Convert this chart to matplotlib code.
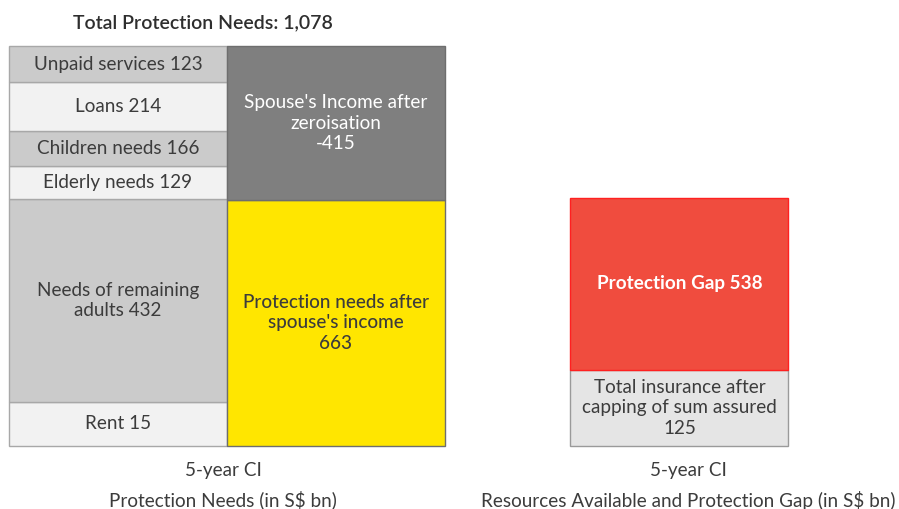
import matplotlib
matplotlib.use("Agg")
import matplotlib.pyplot as plt
import numpy as np

plt.rcParams['font.family'] = ['Lato', 'DejaVu Sans']

# ---- data ----
left_labels = ["Rent 15", "Needs of remaining\nadults 432", "Elderly needs 129",
               "Children needs 166", "Loans 214", "Unpaid services 123"]
left_values = [15, 432, 129, 166, 214, 123]
# heights as drawn in the reference (schematic, not proportional to values)
left_shown = [119, 547, 89, 94, 132, 97]

mid_labels = ["Protection needs after\nspouse's income\n663", "Spouse's Income after\nzeroisation\n-415"]
mid_values = [663, 415]

right_labels = ["Total insurance after\ncapping of sum assured\n125", "Protection Gap 538"]
right_values = [125, 538]
right_shown = [205, 464]

title = "Total Protection Needs: 1,078"
left_xlabel = ["5-year CI", "Protection Needs (in S$ bn)"]
right_xlabel = ["5-year CI", "Resources Available and Protection Gap (in S$ bn)"]

# ---- styles ----
left_colors = ["#f2f2f2", "#cbcbcb", "#f2f2f2", "#cbcbcb", "#f2f2f2", "#cbcbcb"]
mid_colors = ["#ffe600", "#7f7f7f"]
right_colors = ["#e5e5e5", "#f04c3e"]
txt = "#3c3c3c"
FS = 13.6

fig = plt.figure(figsize=(8.99, 5.09), dpi=100)
ax = fig.add_axes([0, 0, 1, 1])
ax.set_xlim(-0.541, 3.583)
ax.set_ylim(-169.8, 1202)
ax.axis("off")

def stack(x, heights, colors, labels, edge, textcolors, weights, fs):
    bottoms = np.concatenate([[0], np.cumsum(heights)[:-1]])
    bars = ax.bar([x] * len(heights), heights, bottom=bottoms, width=1.0,
                  color=colors, edgecolor=edge, linewidth=1.0, zorder=2)
    for b, lab, tc, w in zip(bars, labels, textcolors, weights):
        cx = b.get_x() + b.get_width() / 2
        cy = b.get_y() + b.get_height() / 2
        ax.text(cx, cy, lab, ha="center", va="center", color=tc,
                fontsize=fs, fontweight=w, linespacing=1.25, zorder=3)
    return bars

stack(0, left_shown, left_colors, left_labels, "#a8a8a8",
      [txt] * 6, ["normal"] * 6, FS)
stack(1, mid_values, mid_colors, mid_labels, "#6e6e6e",
      [txt, "#ffffff"], ["medium", "normal"], FS)
rb = stack(2.576, right_shown, right_colors, right_labels, "#9a9a9a",
           [txt, "#ffffff"], ["normal", "bold"], FS)
rb[1].set_edgecolor("#ff2020")

top = sum(mid_values)
ax.text(0.390, top + 62, title, ha="center", va="center", color="#2e2e2e",
        fontsize=14, fontweight="semibold")

ax.text(0.482, -67, left_xlabel[0], ha="center", va="center", color=txt, fontsize=13.6)
ax.text(0.482, -146, left_xlabel[1], ha="center", va="center", color=txt, fontsize=13.6)
ax.text(2.618, -67, right_xlabel[0], ha="center", va="center", color=txt, fontsize=13.6)
ax.text(2.618, -146, right_xlabel[1], ha="center", va="center", color=txt, fontsize=13.6)

fig.savefig("out.png", dpi=100, facecolor="white")
